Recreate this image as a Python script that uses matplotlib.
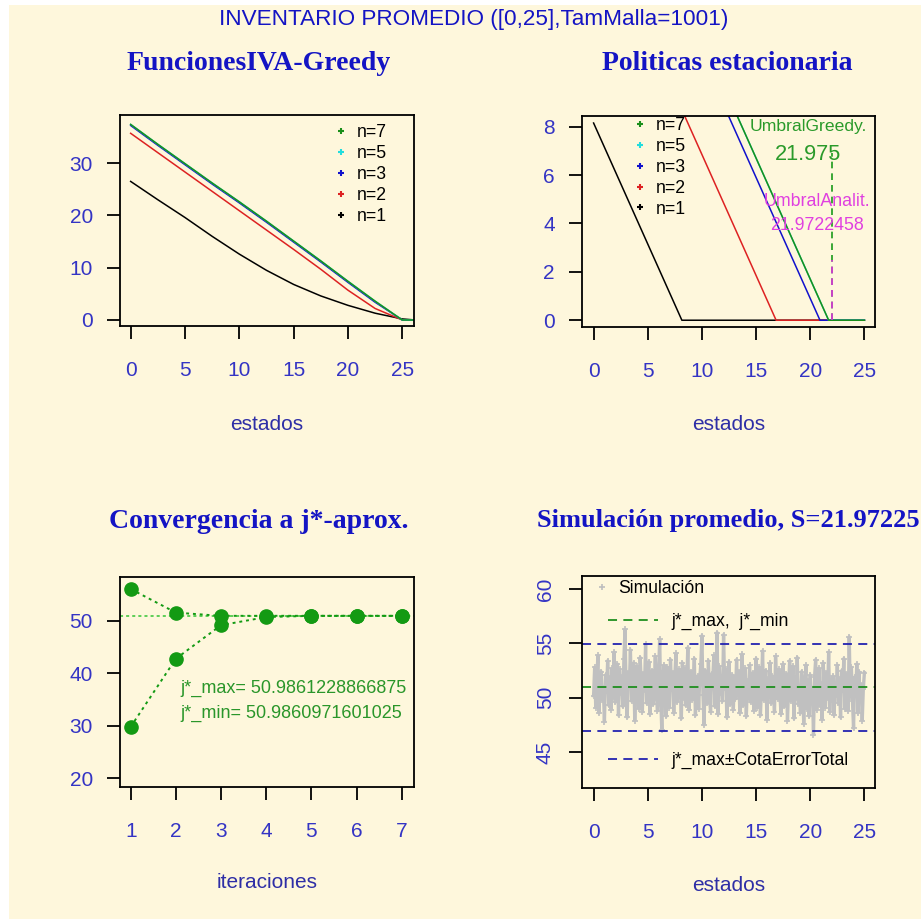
import numpy as np
import matplotlib
matplotlib.use("Agg")
import matplotlib.pyplot as plt
from matplotlib.lines import Line2D
from matplotlib.patches import Rectangle

# ---- datos ----
estados = [0, 2.5, 5, 7.5, 10, 12.5, 15, 17.5, 20, 22.5, 25, 26.2]
iva_n1 = [26.5, 23.0, 19.6, 16.0, 12.6, 9.5, 6.8, 4.6, 2.8, 1.3, 0.2, 0.0]
iva_n2 = [35.7, 32.0, 28.3, 24.6, 20.9, 17.2, 13.5, 9.7, 5.7, 2.2, 0.0, 0.0]
iva_n3 = [37.2, 33.4, 29.7, 26.0, 22.4, 18.7, 14.9, 11.1, 7.2, 3.4, 0.0, 0.0]
iva_n5 = [37.4, 33.6, 29.9, 26.2, 22.6, 18.9, 15.1, 11.3, 7.4, 3.6, 0.0, 0.0]
iva_n7 = [37.4, 33.6, 29.9, 26.2, 22.6, 18.9, 15.1, 11.3, 7.4, 3.6, 0.0, 0.0]

# politicas: (estado, pedido) en los quiebres
pol_x_n1 = [0, 8.15, 25]
pol_y_n1 = [8.15, 0, 0]
pol_x_n2 = [0, 16.85, 25]
pol_y_n2 = [16.85, 0, 0]
pol_x_n3 = [0, 20.9, 25]
pol_y_n3 = [20.9, 0, 0]
pol_x_n5 = [0, 21.7, 25]
pol_y_n5 = [21.7, 0, 0]
pol_x_n7 = [0, 21.7, 25]
pol_y_n7 = [21.7, 0, 0]
umbral_greedy = 21.975
umbral_analit = 21.9722458

iteraciones = [1, 2, 3, 4, 5, 6, 7]
j_max_iter = [56.1, 51.6, 50.98, 50.99, 50.986, 50.986, 50.986]
j_min_iter = [29.8, 42.8, 49.2, 50.75, 50.986, 50.986, 50.986]
j_max = 50.9861228866875
j_min = 50.9860971601025
cota_error = 4.0

simulacion = [
    50.2, 52.8, 49.1, 51.7, 53.9, 48.6, 51.2, 52.4, 49.8, 50.9,
    47.8, 52.1, 50.6, 53.4, 49.3, 51.8, 48.9, 52.7, 50.1, 54.2,
    49.6, 51.3, 53.1, 48.4, 52.6, 50.4, 51.9, 49.2, 53.6, 56.3,
    50.8, 48.2, 52.3, 51.1, 54.4, 49.7, 50.6, 53.2, 47.9, 51.5,
    52.9, 50.3, 49.0, 53.7, 51.4, 48.7, 52.2, 50.7, 54.9, 49.5,
    51.6, 53.3, 48.5, 50.9, 52.5, 49.4, 51.0, 53.8, 50.2, 48.8,
    52.0, 55.4, 49.9, 47.0, 51.7, 53.0, 50.5, 48.3, 52.8, 51.2,
    49.1, 53.5, 50.8, 52.3, 48.6, 51.9, 54.1, 49.6, 50.4, 52.6,
    51.3, 48.1, 53.2, 50.0, 52.7, 49.3, 51.5, 54.6, 48.9, 50.7,
    52.4, 49.8, 51.1, 53.6, 48.4, 50.6, 52.0, 49.0, 51.8, 53.1,
    55.7, 50.3, 47.5, 52.5, 51.0, 49.5, 53.4, 50.1, 48.7, 52.2,
    51.6, 53.9, 49.2, 50.8, 56.0, 48.5, 52.9, 50.4, 51.4, 49.7,
    55.8, 50.9, 52.6, 48.2, 51.2, 53.3, 49.4, 50.5, 52.1, 48.9,
    51.8, 49.9, 53.5, 50.2, 52.4, 48.6, 51.0, 54.0, 49.3, 50.7,
    52.7, 48.3, 51.5, 50.0, 53.0, 49.6, 51.9, 52.3, 48.8, 50.6,
    53.6, 49.1, 51.3, 52.8, 48.4, 50.9, 54.3, 49.8, 51.1, 52.5,
    48.0, 51.7, 50.2, 53.2, 49.5, 52.0, 50.8, 48.7, 53.8, 51.4,
    49.9, 52.6, 50.4, 48.5, 51.6, 53.1, 49.2, 50.7, 52.2, 47.9,
    51.0, 53.4, 49.7, 50.3, 52.9, 48.1, 51.8, 50.0, 53.7, 49.4,
    50.6, 48.6, 52.4, 51.2, 47.6, 50.9, 53.0, 49.0, 51.5, 48.3,
    52.1, 49.6, 50.8, 46.6, 51.9, 53.5, 48.9, 50.2, 52.7, 49.3,
    51.3, 48.0, 53.2, 50.5, 49.1, 52.3, 50.0, 54.2, 48.7, 51.6,
    49.8, 52.0, 48.4, 51.1, 50.3, 53.0, 49.5, 51.7, 48.2, 52.5,
    50.7, 53.6, 49.0, 52.2, 51.4, 48.8, 55.6, 50.1, 52.8, 49.7,
    47.2, 51.9, 50.4, 53.1, 48.6, 52.4, 49.9, 51.2, 47.9, 50.8,
    52.3,
]
sim_estados = np.linspace(0, 25, len(simulacion))

# ---- estilo ----
W, H = 921, 919
CREMA = '#FEF7DC'
AZUL_TIT = '#1414C4'
AZUL_TICK = '#3434C4'
AZUL_LAB = '#2E2EA6'
VERDE = '#139A13'
SANS = ['Liberation Sans', 'DejaVu Sans']
SERIF = ['Liberation Serif', 'DejaVu Serif']
plt.rcParams['font.family'] = SANS

fig = plt.figure(figsize=(W / 100, H / 100), dpi=100, facecolor='white')
fig.patches.append(Rectangle((9 / W, 0), 1, 1 - 5 / H, transform=fig.transFigure,
                             facecolor=CREMA, edgecolor='none', zorder=-10))


def make_ax(x0, y0, x1, y1):
    ax = fig.add_axes([x0 / W, 1 - y1 / H, (x1 - x0) / W, (y1 - y0) / H])
    ax.set_facecolor(CREMA)
    for s in ax.spines.values():
        s.set_linewidth(1.3)
    ax.tick_params(length=9.5, width=1.3, labelsize=15, labelcolor=AZUL_TICK)
    ax.tick_params(axis='x', pad=15.5)
    ax.tick_params(axis='y', pad=10)
    return ax


def fig_text(x, y, s, **kw):
    fig.text(x / W, 1 - y / H, s, ha='center', va='center', **kw)


def xlabel(ax, s, y, top):
    ax.set_xlabel(s, fontsize=15, color=AZUL_LAB)
    ax.xaxis.set_label_coords(0.5, -(y - top) / 211 + 1)
    ax.xaxis.label.set_va('center')


fig_text(474, 20, "INVENTARIO PROMEDIO ([0,25],TamMalla=1001)",
         fontsize=16.2, color=AZUL_TIT, family=SANS)

# ---- 1: funciones IVA ----
ax1 = make_ax(120, 115, 414, 326)
series1 = [(iva_n1, 'black', 'n=1'), (iva_n2, '#DD2222', 'n=2'),
           (iva_n3, '#1111CC', 'n=3'), (iva_n5, '#22DDDD', 'n=5'),
           (iva_n7, '#1A8F1A', 'n=7')]
for vals, col, lab in series1:
    ax1.plot(estados, vals, color=col, lw=1.1)
ax1.set_xlim(-0.98, 26.08)
ax1.set_ylim(-1.15, 39.2)
ax1.set_xticks([0, 5, 10, 15, 20, 25])
ax1.set_yticks([0, 10, 20, 30])
h1 = [Line2D([], [], ls='none', marker='+', ms=4, mew=1.5, color=c, label=l)
      for _, c, l in series1[::-1]]
ax1.legend(handles=h1, loc='upper left', bbox_to_anchor=(0.735, 0.955),
           frameon=False, fontsize=12.7, handlelength=0.6, handletextpad=0.6,
           labelspacing=0.22, borderpad=0, borderaxespad=0)
fig_text(259, 63, "FuncionesIVA-Greedy", fontsize=20, fontweight='bold',
         color=AZUL_TIT, family=SERIF)
xlabel(ax1, "estados", 424, 115)

# ---- 2: politicas ----
ax2 = make_ax(582, 116, 875, 327)
series2 = [(pol_x_n1, pol_y_n1, 'black', 'n=1'),
           (pol_x_n2, pol_y_n2, '#DD2222', 'n=2'),
           (pol_x_n3, pol_y_n3, '#1111CC', 'n=3'),
           (pol_x_n5, pol_y_n5, '#22DDDD', 'n=5'),
           (pol_x_n7, pol_y_n7, '#1A8F1A', 'n=7')]
for xs, ys, col, lab in series2:
    ax2.plot(xs, ys, color=col, lw=1.1)
ax2.plot([umbral_greedy, umbral_greedy], [0, 6.9], color='#1A9A1A', lw=1.2, ls=(0, (4, 3)))
ax2.plot([umbral_analit, umbral_analit], [0, 2.5], color='#E030E0', lw=1.2, ls=(0, (4, 3)))
ax2.text(19.8, 8.0, "UmbralGreedy.", color='#2A9A2A', fontsize=12.6, ha='center', va='center')
ax2.text(19.8, 6.85, f"{umbral_greedy}", color='#2A9A2A', fontsize=15.7, ha='center', va='center')
ax2.text(20.6, 4.9, "UmbralAnalit.", color='#E040E0', fontsize=12.8, ha='center', va='center')
ax2.text(20.6, 3.93, f"{umbral_analit}", color='#E040E0', fontsize=12.8, ha='center', va='center')
ax2.set_xlim(-1.07, 25.98)
ax2.set_ylim(-0.28, 8.44)
ax2.set_xticks([0, 5, 10, 15, 20, 25])
ax2.set_yticks([0, 2, 4, 6, 8])
h2 = [Line2D([], [], ls='none', marker='+', ms=4, mew=1.5, color=c, label=l)
      for _, _, c, l in series2[::-1]]
ax2.legend(handles=h2, loc='upper left', bbox_to_anchor=(0.18, 0.995),
           frameon=False, fontsize=12.7, handlelength=0.6, handletextpad=0.6,
           labelspacing=0.22, borderpad=0, borderaxespad=0)
fig_text(727, 63, "Politicas estacionaria", fontsize=20, fontweight='bold',
         color=AZUL_TIT, family=SERIF)
xlabel(ax2, "estados", 424, 116)

# ---- 3: convergencia ----
ax3 = make_ax(120, 577, 414, 787)
ax3.axhline(j_max, color='#33C433', lw=1.1, ls=(0, (2, 2)))
ax3.plot(iteraciones, j_max_iter, color=VERDE, lw=1.4, ls=(0, (1.5, 2)),
         marker='o', ms=9.5)
ax3.plot(iteraciones, j_min_iter, color=VERDE, lw=1.4, ls=(0, (1.5, 2)),
         marker='o', ms=9.5)
ax3.text(2.1, 37.2, f"j*_max= {j_max}", color='#2A962A', fontsize=13, va='center')
ax3.text(2.1, 32.4, f"j*_min= {j_min}", color='#2A962A', fontsize=13, va='center')
ax3.set_xlim(0.763, 7.27)
ax3.set_ylim(18.3, 58.4)
ax3.set_xticks(iteraciones)
ax3.set_yticks([20, 30, 40, 50])
fig_text(259, 521, "Convergencia a j*-aprox.", fontsize=20, fontweight='bold',
         color=AZUL_TIT, family=SERIF)
xlabel(ax3, "iteraciones", 884, 577)

# ---- 4: simulacion ----
ax4 = make_ax(582, 576, 875, 788)
ax4.plot(sim_estados, simulacion, color='#C0C0C0', lw=2.4, marker='+', ms=4, mew=1.2)
ax4.axhline(j_max + cota_error, color='#2323B0', lw=1.3, ls=(0, (5, 3.5)))
ax4.axhline(j_max - cota_error, color='#2323B0', lw=1.3, ls=(0, (5, 3.5)))
ax4.axhline(j_max, color='#1F8F1F', lw=1.3, ls=(0, (5, 3.5)))
ax4.set_xlim(-1.07, 25.98)
ax4.set_ylim(41.7, 61.2)
ax4.set_xticks([0, 5, 10, 15, 20, 25])
ax4.set_yticks([45, 50, 55, 60])
for t in ax4.get_yticklabels():
    t.set_rotation(90)
    t.set_va('center')
leg_a = ax4.legend(handles=[Line2D([], [], ls='none', marker='+', ms=4, mew=1.2,
                                   color='#BEBEBE', label='Simulación')],
                   loc='center left', bbox_to_anchor=(0.05, 0.94), frameon=False,
                   fontsize=12.7, handlelength=0.6, handletextpad=0.6,
                   borderpad=0, borderaxespad=0)
ax4.add_artist(leg_a)
leg_b = ax4.legend(handles=[Line2D([], [], ls=(0, (5, 3.5)), lw=1.3, color='#1F8F1F',
                                   label='j*_max,  j*_min')],
                   loc='center left', bbox_to_anchor=(0.09, 0.785), frameon=False,
                   fontsize=12.7, handlelength=2.8, handletextpad=0.8,
                   borderpad=0, borderaxespad=0)
ax4.add_artist(leg_b)
ax4.legend(handles=[Line2D([], [], ls=(0, (5, 3.5)), lw=1.3, color='#2323B0',
                           label='j*_max±CotaErrorTotal')],
           loc='center left', bbox_to_anchor=(0.09, 0.13), frameon=False,
           fontsize=12.7, handlelength=2.8, handletextpad=0.8,
           borderpad=0, borderaxespad=0)
fig_text(728, 521, "Simulación promedio, S=21.97225", fontsize=19, fontweight='bold',
         color=AZUL_TIT, family=SERIF)
xlabel(ax4, "estados", 884, 576)

fig.savefig("out.png", dpi=100, facecolor=fig.get_facecolor())
